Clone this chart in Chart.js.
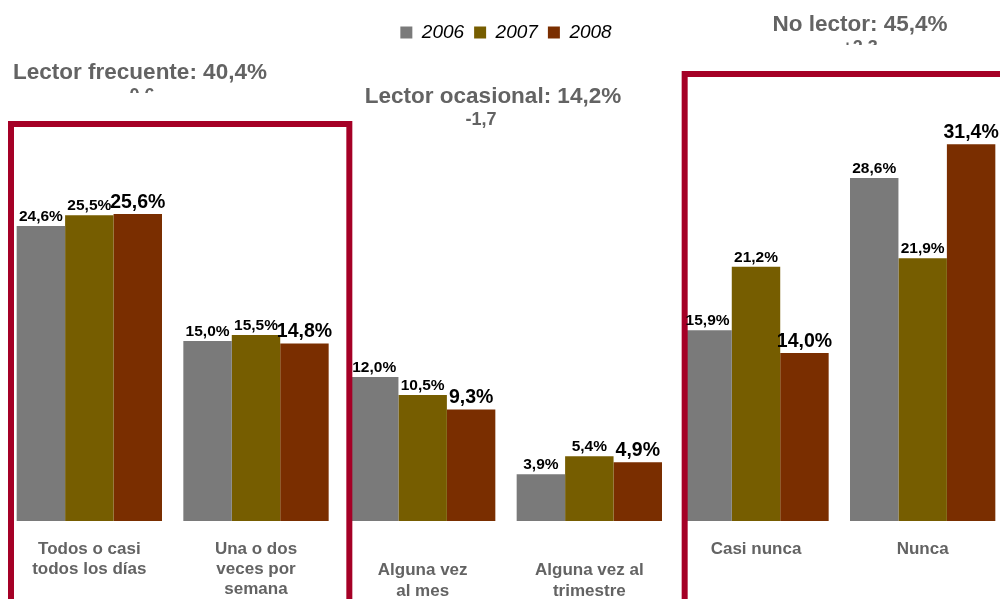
<!DOCTYPE html>
<html>
<head>
<meta charset="utf-8">
<script src="https://cdn.jsdelivr.net/npm/chart.js@4.4.1/dist/chart.umd.min.js"></script>
<style>
  html, body { margin: 0; padding: 0; background: #fff; overflow: hidden; }
  #wrap { position: relative; width: 1006px; height: 620px; }
</style>
</head>
<body>
<div id="wrap"><canvas id="c"></canvas></div>
<script>
// ---- data ----
const categories = [
  ["Todos o casi", "todos los días"],
  ["Una o dos", "veces por", "semana"],
  ["Alguna vez", "al mes"],
  ["Alguna vez al", "trimestre"],
  ["Casi nunca"],
  ["Nunca"]
];
const years = ["2006", "2007", "2008"];
const values2006 = [24.6, 15.0, 12.0, 3.9, 15.9, 28.6];
const values2007 = [25.5, 15.5, 10.5, 5.4, 21.2, 21.9];
const values2008 = [25.6, 14.8, 9.3, 4.9, 14.0, 31.4];
const groupTitles = ["Lector frecuente: 40,4%", "Lector ocasional: 14,2%", "No lector: 45,4%"];
const groupChanges = ["0,6", "-1,7", "+2,3"];

// ---- styles ----
const FONT = "'Liberation Sans', Arial, Helvetica, sans-serif";
const colors = ["#7a7a7a", "#765d00", "#7a2e00"];
const BOX_RED = "#a50026";
const TITLE_GRAY = "#636363";
const loweredTicks = [2, 3];

const fmt = v => v.toFixed(1).replace('.', ',') + '%';

const titlePlacement = [
  { x: 140, y: 79, sx: 142, sy: 101, clip: 93 },
  { x: 493, y: 103, sx: 481, sy: 125, clip: null },
  { x: 860, y: 31, sx: 860, sy: 53, clip: 45 }
];

const decorPlugin = {
  id: 'decor',
  afterDatasetsDraw(chart) {
    const ctx = chart.ctx;
    const xs = chart.scales.x;
    const p = i => xs.getPixelForValue(i);
    // red group boxes
    ctx.save();
    ctx.strokeStyle = BOX_RED;
    ctx.lineWidth = 6;
    const b1l = xs.left + 5, b1r = (p(1) + p(2)) / 2 + 10;
    ctx.strokeRect(b1l, 124, b1r - b1l, 700);
    const b2l = (p(3) + p(4)) / 2 + 12;
    ctx.strokeRect(b2l, 74, 800, 700);
    ctx.restore();

    // value labels
    ctx.save();
    ctx.fillStyle = '#000';
    ctx.textAlign = 'center';
    ctx.textBaseline = 'alphabetic';
    chart.data.datasets.forEach((ds, di) => {
      const meta = chart.getDatasetMeta(di);
      const big = di === 2;
      ctx.font = 'bold ' + (big ? '19.5px ' : '15.5px ') + FONT;
      meta.data.forEach((bar, i) => {
        ctx.fillText(fmt(ds.data[i]), bar.x, bar.y - (big ? 6 : 5));
      });
    });
    ctx.restore();

    // group titles
    ctx.save();
    ctx.fillStyle = TITLE_GRAY;
    ctx.textAlign = 'center';
    ctx.textBaseline = 'alphabetic';
    groupTitles.forEach((t, i) => {
      const tp = titlePlacement[i];
      ctx.font = 'bold 22.5px ' + FONT;
      ctx.fillText(t, tp.x, tp.y);
      ctx.save();
      if (tp.clip !== null) {
        ctx.beginPath();
        ctx.rect(0, 0, chart.width, tp.clip);
        ctx.clip();
      }
      ctx.font = 'bold 18px ' + FONT;
      ctx.fillText(groupChanges[i], tp.sx, tp.sy);
      ctx.restore();
    });
    ctx.restore();
  }
};

const valueSets = [values2006, values2007, values2008];

new Chart(document.getElementById('c'), {
  type: 'bar',
  data: {
    labels: categories,
    datasets: years.map((y, i) => ({
      label: y,
      data: valueSets[i],
      backgroundColor: colors[i],
      borderWidth: 0,
      categoryPercentage: 0.872,
      barPercentage: 1.0
    }))
  },
  options: {
    responsive: true,
    maintainAspectRatio: false,
    animation: false,
    devicePixelRatio: 1,
    layout: { padding: { left: 6, right: 0, top: 13, bottom: 0 } },
    plugins: {
      legend: {
        display: true,
        position: 'top',
        align: 'center',
        labels: {
          boxWidth: 12,
          boxHeight: 12,
          padding: 10,
          color: '#000',
          font: { family: FONT, size: 19, style: 'italic' }
        }
      },
      tooltip: { enabled: false },
      title: { display: false }
    },
    scales: {
      x: {
        grid: { display: false, drawTicks: false },
        border: { display: false },
        ticks: {
          padding: 18,
          autoSkip: false,
          maxRotation: 0,
          color: TITLE_GRAY,
          callback: function(value, index) {
            const lines = categories[index];
            return loweredTicks.includes(index) ? [""].concat(lines) : lines;
          },
          font: (c) => ({
            family: FONT,
            size: 17,
            weight: 'bold',
            lineHeight: (c.index !== undefined && loweredTicks.includes(c.index)) ? '21px' : '20px'
          })
        }
      },
      y: {
        display: false,
        min: 0,
        max: 39.1
      }
    }
  },
  plugins: [decorPlugin]
});
</script>
</body>
</html>
